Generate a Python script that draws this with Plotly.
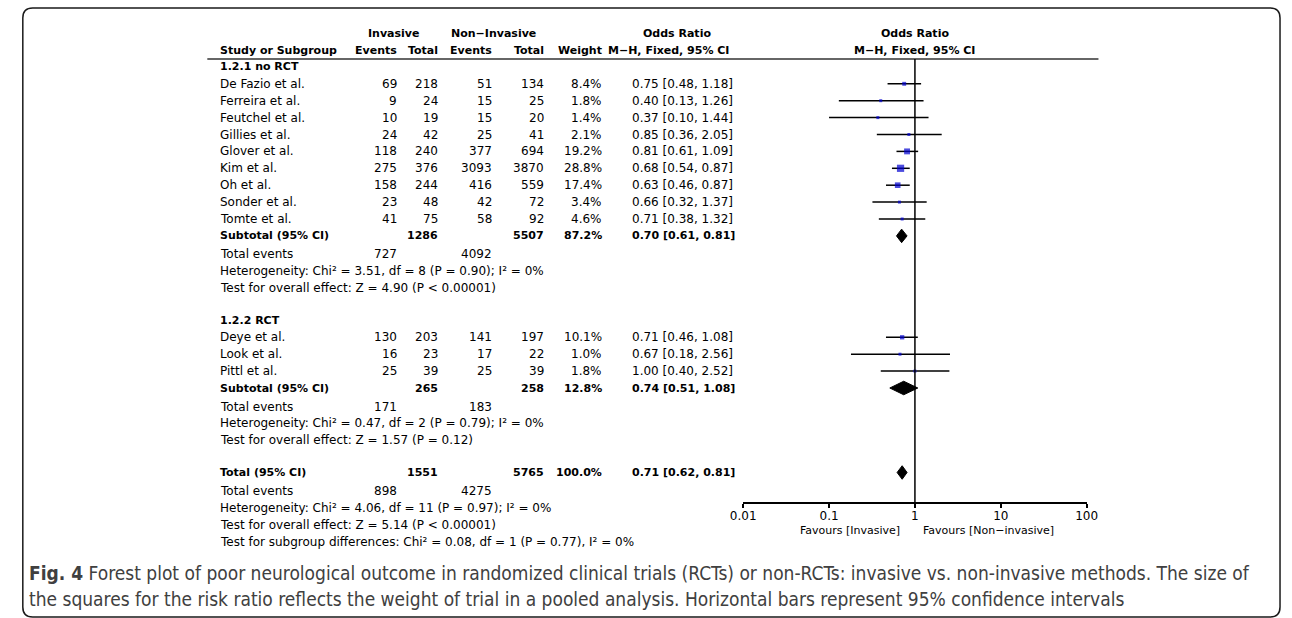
import plotly.graph_objects as go

W, H = 1292, 618

# ---------------- data ----------------
g1_studies = ["De Fazio et al.", "Ferreira et al.", "Feutchel et al.", "Gillies et al.", "Glover et al.",
              "Kim et al.", "Oh et al.", "Sonder et al.", "Tomte et al."]
g1_inv_events = [69, 9, 10, 24, 118, 275, 158, 23, 41]
g1_inv_total = [218, 24, 19, 42, 240, 376, 244, 48, 75]
g1_non_events = [51, 15, 15, 25, 377, 3093, 416, 42, 58]
g1_non_total = [134, 25, 20, 41, 694, 3870, 559, 72, 92]
g1_weight = [8.4, 1.8, 1.4, 2.1, 19.2, 28.8, 17.4, 3.4, 4.6]
g1_or = [0.75, 0.40, 0.37, 0.85, 0.81, 0.68, 0.63, 0.66, 0.71]
g1_lo = [0.48, 0.13, 0.10, 0.36, 0.61, 0.54, 0.46, 0.32, 0.38]
g1_hi = [1.18, 1.26, 1.44, 2.05, 1.09, 0.87, 0.87, 1.37, 1.32]

g2_studies = ["Deye et al.", "Look et al.", "Pittl et al."]
g2_inv_events = [130, 16, 25]
g2_inv_total = [203, 23, 39]
g2_non_events = [141, 17, 25]
g2_non_total = [197, 22, 39]
g2_weight = [10.1, 1.0, 1.8]
g2_or = [0.71, 0.67, 1.00]
g2_lo = [0.46, 0.18, 0.40]
g2_hi = [1.08, 2.56, 2.52]

group_titles = ["1.2.1 no RCT", "1.2.2 RCT"]
pooled_labels = ["Subtotal (95% CI)", "Subtotal (95% CI)", "Total (95% CI)"]
pooled_inv_total = [1286, 265, 1551]
pooled_non_total = [5507, 258, 5765]
pooled_weight = [87.2, 12.8, 100.0]
pooled_or = [0.70, 0.74, 0.71]
pooled_lo = [0.61, 0.51, 0.62]
pooled_hi = [0.81, 1.08, 0.81]
pooled_events_inv = [727, 171, 898]
pooled_events_non = [4092, 183, 4275]
heterogeneity = ["Heterogeneity: Chi² = 3.51, df = 8 (P = 0.90); I² = 0%",
                 "Heterogeneity: Chi² = 0.47, df = 2 (P = 0.79); I² = 0%",
                 "Heterogeneity: Chi² = 4.06, df = 11 (P = 0.97); I² = 0%"]
overall_effect = ["Test for overall effect: Z = 4.90 (P < 0.00001)",
                  "Test for overall effect: Z = 1.57 (P = 0.12)",
                  "Test for overall effect: Z = 5.14 (P < 0.00001)"]
subgroup_test = "Test for subgroup differences: Chi² = 0.08, df = 1 (P = 0.77), I² = 0%"

axis_ticks = [0.01, 0.1, 1, 10, 100]
axis_ticktext = ["0.01", "0.1", "1", "10", "100"]
favours_left = "Favours [Invasive]"
favours_right = "Favours [Non\u2212invasive]"
caption_lines = ["<b>Fig. 4</b> Forest plot of poor neurological outcome in randomized clinical trials (RCTs) or non-RCTs: invasive vs. non-invasive methods. The size of",
                 "the squares for the risk ratio reflects the weight of trial in a pooled analysis. Horizontal bars represent 95% confidence intervals"]

# ---------------- layout helpers ----------------
Y0, P = 50.0, 16.9          # pixel of row 0, row pitch
def p2paper(py): return 1 - py / H

FONT = "DejaVu Sans"
FS = 12
FSB = 11
X_LABEL = 209
X_IE, X_IT, X_NE, X_NT, X_W, X_OR = 393, 435, 490, 543, 602, 629
X_PLOT_L, X_PLOT_R = 744, 1094
AXIS_PY = 503

ann = []
def txt(x, u, s, anchor="left", bold=False, size=None, color="#000"):
    ann.append(dict(x=x, y=u, xref="x", yref="y", text=(f"<b>{s}</b>" if bold else s),
                    showarrow=False, xanchor=anchor, yanchor="middle",
                    font=dict(family=FONT, size=(size or (FSB if bold else FS)), color=color)))

# headers
txt(388, -1, "Invasive", "center", True)
txt(490, -1, "Non\u2212Invasive", "center", True)
txt(677, -1, "Odds Ratio", "center", True)
txt(919, -1, "Odds Ratio", "center", True)
txt(X_LABEL, 0, "Study or Subgroup", "left", True)
txt(X_IE, 0, "Events", "right", True)
txt(X_IT, 0, "Total", "right", True)
txt(X_NE, 0, "Events", "right", True)
txt(X_NT, 0, "Total", "right", True)
txt(X_W, 0, "Weight", "right", True)
txt(X_OR + 103, 0, "M\u2212H, Fixed, 95% CI", "right", True)
txt(919, 0, "M\u2212H, Fixed, 95% CI", "center", True)

ci_x, ci_y, sq_x, sq_y, sq_s = [], [], [], [], []
diamonds = []

def study_rows(u0, names, ie, it, ne, nt, w, orv, lo, hi):
    for i, n in enumerate(names):
        u = u0 + i
        txt(X_LABEL, u, n)
        txt(X_IE, u, str(ie[i]), "right")
        txt(X_IT, u, str(it[i]), "right")
        txt(X_NE, u, str(ne[i]), "right")
        txt(X_NT, u, str(nt[i]), "right")
        txt(X_W, u, f"{w[i]:.1f}%", "right")
        txt(X_OR, u, f"{orv[i]:.2f} [{lo[i]:.2f}, {hi[i]:.2f}]")
        ci_x.extend([lo[i], hi[i], None]); ci_y.extend([u, u, None])
        sq_x.append(orv[i]); sq_y.append(u); sq_s.append(max(3, 1.35 * w[i] ** 0.5))

def pooled_block(u, k):
    txt(X_LABEL, u, pooled_labels[k], "left", True)
    txt(X_IT, u, str(pooled_inv_total[k]), "right", True)
    txt(X_NT, u, str(pooled_non_total[k]), "right", True)
    txt(X_W, u, f"{pooled_weight[k]:.1f}%", "right", True)
    txt(X_OR, u, f"{pooled_or[k]:.2f} [{pooled_lo[k]:.2f}, {pooled_hi[k]:.2f}]", "left", True)
    diamonds.append((u, pooled_lo[k], pooled_or[k], pooled_hi[k]))
    txt(X_LABEL, u + 1.1, "Total events")
    txt(X_IE, u + 1.1, str(pooled_events_inv[k]), "right")
    txt(X_NE, u + 1.1, str(pooled_events_non[k]), "right")
    txt(X_LABEL, u + 2.1, heterogeneity[k])
    txt(X_LABEL, u + 3.1, overall_effect[k])

txt(X_LABEL, 1, group_titles[0], "left", True)
study_rows(2, g1_studies, g1_inv_events, g1_inv_total, g1_non_events, g1_non_total, g1_weight, g1_or, g1_lo, g1_hi)
pooled_block(11, 0)
txt(X_LABEL, 16, group_titles[1], "left", True)
study_rows(17, g2_studies, g2_inv_events, g2_inv_total, g2_non_events, g2_non_total, g2_weight, g2_or, g2_lo, g2_hi)
pooled_block(20, 1)
pooled_block(25, 2)
txt(X_LABEL, 29.1, subgroup_test)

# favours + caption
ann.append(dict(x=906, y=p2paper(530), xref="x", yref="paper", text=favours_left, showarrow=False,
                xanchor="right", yanchor="middle", font=dict(family=FONT, size=11, color="#000")))
ann.append(dict(x=925, y=p2paper(530), xref="x", yref="paper", text=favours_right, showarrow=False,
                xanchor="left", yanchor="middle", font=dict(family=FONT, size=11, color="#000")))
for i, line in enumerate(caption_lines):
    ann.append(dict(x=14, y=p2paper(573 + 26 * i), xref="x", yref="paper", text=line, showarrow=False,
                    xanchor="left", yanchor="middle",
                    font=dict(family="DejaVu Sans Condensed, DejaVu Sans", size=19, color="#404040")))

fig = go.Figure()
fig.add_trace(go.Scatter(x=ci_x, y=ci_y, xaxis="x2", yaxis="y", mode="lines",
                         line=dict(color="black", width=1.5), hoverinfo="skip", showlegend=False))
fig.add_trace(go.Scatter(x=sq_x, y=sq_y, xaxis="x2", yaxis="y", mode="markers",
                         marker=dict(symbol="square", size=sq_s, color="#0000D0", line=dict(width=0)),
                         showlegend=False))
for (u, lo, m, hi) in diamonds:
    fig.add_trace(go.Scatter(x=[lo, m, hi, m, lo], y=[u, u - 0.4, u, u + 0.4, u], xaxis="x2", yaxis="y",
                             mode="lines", fill="toself", fillcolor="black", line=dict(color="black", width=1),
                             showlegend=False))

# frame path (rounded rectangle)
def rr(x0, y0, x1, y1, r):
    Y = p2paper
    return (f"M {x0+r},{Y(y0)} L {x1-r},{Y(y0)} Q {x1},{Y(y0)} {x1},{Y(y0+r)} "
            f"L {x1},{Y(y1-r)} Q {x1},{Y(y1)} {x1-r},{Y(y1)} L {x0+r},{Y(y1)} "
            f"Q {x0},{Y(y1)} {x0},{Y(y1-r)} L {x0},{Y(y0+r)} Q {x0},{Y(y0)} {x0+r},{Y(y0)} Z")

shapes = [
    dict(type="path", path=rr(10, 8, 1291, 617, 10), xref="x", yref="paper",
         line=dict(color="#1a1a1a", width=1.5)),
    dict(type="line", x0=198, x1=1106, y0=p2paper(59), y1=p2paper(59), xref="x", yref="paper",
         line=dict(color="#333", width=1.5)),
    dict(type="line", x0=1, x1=1, y0=p2paper(59), y1=p2paper(AXIS_PY), xref="x2", yref="paper",
         line=dict(color="black", width=1.5)),
]

fig.update_layout(
    width=W, height=H, margin=dict(l=0, r=0, t=0, b=0),
    paper_bgcolor="white", plot_bgcolor="rgba(0,0,0,0)", showlegend=False,
    xaxis=dict(range=[0, W], domain=[0, 1], visible=False, fixedrange=True),
    yaxis=dict(range=[(H - Y0) / P, -Y0 / P], domain=[0, 1], visible=False, fixedrange=True),
    xaxis2=dict(type="log", range=[-2, 2], domain=[X_PLOT_L / W, X_PLOT_R / W], anchor="free",
                position=p2paper(AXIS_PY), showline=True, linecolor="black", linewidth=1.5,
                ticks="outside", ticklen=4, tickwidth=1.5, tickcolor="black",
                tickvals=axis_ticks, ticktext=axis_ticktext, showgrid=False, zeroline=False,
                ticklabelstandoff=-2,
                tickfont=dict(family=FONT, size=12, color="black"), fixedrange=True),
    annotations=ann, shapes=shapes,
)

fig.write_html("out.html", config={"displayModeBar": False},
               post_script="document.body.style.margin='0px';")
